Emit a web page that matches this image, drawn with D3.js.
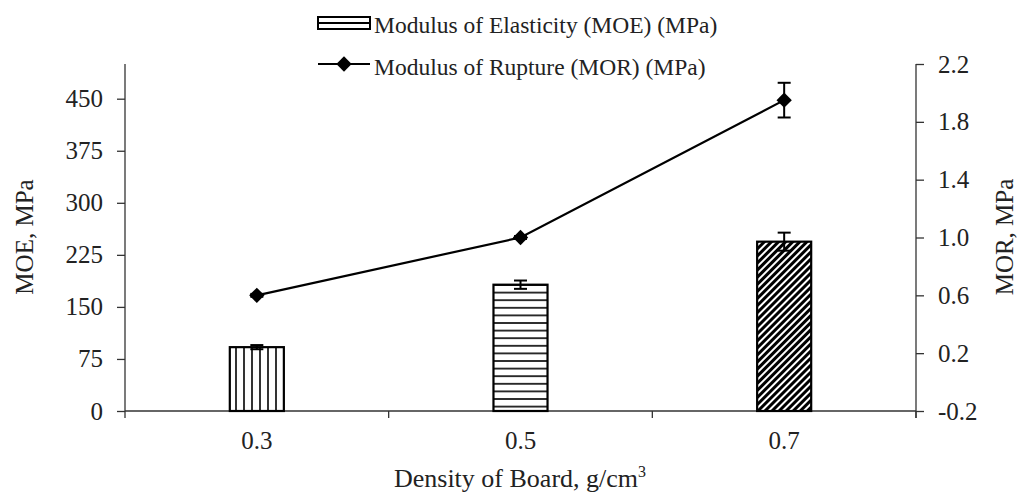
<!DOCTYPE html>
<html>
<head>
<meta charset="utf-8">
<script src="https://cdn.jsdelivr.net/npm/d3@7"></script>
<style>
  body { margin: 0; background: #fff; }
  text { font-family: "Liberation Serif", "Times New Roman", serif; fill: #222; }
</style>
</head>
<body>
<div id="canvas"></div>
<script>
var densities = ["0.3", "0.5", "0.7"];
var moeValues = [92, 182, 244];
var moeErrors = [3, 6, 13];
var morValues = [0.60, 1.00, 1.95];
var morErrors = [0.01, 0.01, 0.12];
var moeTicks = [0, 75, 150, 225, 300, 375, 450];
var morTicks = [-0.2, 0.2, 0.6, 1.0, 1.4, 1.8, 2.2];
var patterns = ["vert", "horiz", "diag"];

var W = 1019, H = 494;
var AXIS_COLOR = "#333";
var FONT = "25px";
var mLeft = 125, mRight = 916, mTop = 64, mBottom = 411;

var svg = d3.select("#canvas").append("svg").attr("width", W).attr("height", H);

var defs = svg.append("defs");
var p1 = defs.append("pattern").attr("id", "vert").attr("patternUnits", "userSpaceOnUse")
    .attr("width", 8).attr("height", 8);
p1.append("rect").attr("width", 8).attr("height", 8).attr("fill", "#fff");
p1.append("line").attr("x1", 4).attr("x2", 4).attr("y1", 0).attr("y2", 8)
    .attr("stroke", "#000").attr("stroke-width", 1.6);
var p2 = defs.append("pattern").attr("id", "horiz").attr("patternUnits", "userSpaceOnUse")
    .attr("width", 8).attr("height", 7.6);
p2.append("rect").attr("width", 8).attr("height", 7.6).attr("fill", "#fff");
p2.append("line").attr("x1", 0).attr("x2", 8).attr("y1", 3.8).attr("y2", 3.8)
    .attr("stroke", "#000").attr("stroke-width", 1.6);
var p3 = defs.append("pattern").attr("id", "diag").attr("patternUnits", "userSpaceOnUse")
    .attr("width", 5).attr("height", 5).attr("patternTransform", "rotate(45)");
p3.append("rect").attr("width", 5).attr("height", 5).attr("fill", "#fff");
p3.append("line").attr("x1", 1.5).attr("x2", 1.5).attr("y1", 0).attr("y2", 5)
    .attr("stroke", "#000").attr("stroke-width", 3);

var x = d3.scaleBand().domain(densities).range([mLeft, mRight]).padding(0);
var yL = d3.scaleLinear().domain([0, 500]).range([mBottom, mTop]);
var yR = d3.scaleLinear().domain([-0.2, 2.2]).range([mBottom, mTop]);
var barW = x.bandwidth() * 0.205;

// left axis
var gL = svg.append("g").attr("transform", "translate(" + mLeft + ",0)")
    .call(d3.axisLeft(yL).tickValues(moeTicks).tickSize(8).tickPadding(14));
// right axis
var gR = svg.append("g").attr("transform", "translate(" + mRight + ",0)")
    .call(d3.axisRight(yR).tickValues(morTicks).tickSize(8).tickPadding(14)
        .tickFormat(function(d){ return d.toFixed(1); }));
// bottom axis (labels only), boundary ticks drawn separately
var gB = svg.append("g").attr("transform", "translate(0," + mBottom + ")")
    .call(d3.axisBottom(x).tickSize(0).tickPadding(20));
gB.select(".domain").remove();

[gL, gR, gB].forEach(function(g){
    g.selectAll("text").style("font-size", FONT).style("font-family", "Liberation Serif").attr("fill", "#222");
    g.selectAll("line").attr("stroke", AXIS_COLOR).attr("stroke-width", 1.3);
    g.select(".domain").attr("stroke", AXIS_COLOR).attr("stroke-width", 1.3);
});
gL.select(".domain").attr("d", "M0," + mTop + "V" + mBottom);
gR.select(".domain").attr("d", "M0," + mTop + "V" + (mBottom + 7));

svg.append("line").attr("x1", mLeft).attr("x2", mRight).attr("y1", mBottom).attr("y2", mBottom)
    .attr("stroke", AXIS_COLOR).attr("stroke-width", 1.3);
var bounds = densities.map(function(d){ return x(d); }).concat([mRight]);
svg.selectAll(".xtick").data(bounds).enter().append("line")
    .attr("x1", function(d){ return d; }).attr("x2", function(d){ return d; })
    .attr("y1", mBottom).attr("y2", mBottom + 7)
    .attr("stroke", AXIS_COLOR).attr("stroke-width", 1.3);

// bars
var cx = function(i){ return x(densities[i]) + x.bandwidth() / 2; };
svg.selectAll(".bar").data(moeValues).enter().append("rect")
    .attr("x", function(d, i){ return cx(i) - barW / 2; })
    .attr("y", function(d){ return yL(d); })
    .attr("width", barW)
    .attr("height", function(d){ return mBottom - yL(d); })
    .attr("fill", function(d, i){ return "url(#" + patterns[i] + ")"; })
    .attr("stroke", "#000").attr("stroke-width", 2.2);

function errorBars(vals, errs, scale, capW){
    var g = svg.append("g").attr("stroke", "#000").attr("stroke-width", 2);
    vals.forEach(function(v, i){
        var c = cx(i), yt = scale(v + errs[i]), yb = scale(v - errs[i]);
        g.append("line").attr("x1", c).attr("x2", c).attr("y1", yt).attr("y2", yb);
        g.append("line").attr("x1", c - capW / 2).attr("x2", c + capW / 2).attr("y1", yt).attr("y2", yt);
        g.append("line").attr("x1", c - capW / 2).attr("x2", c + capW / 2).attr("y1", yb).attr("y2", yb);
    });
}
errorBars(moeValues, moeErrors, yL, 13);

// MOR line
var line = d3.line().x(function(d, i){ return cx(i); }).y(function(d){ return yR(d); });
svg.append("path").datum(morValues).attr("d", line)
    .attr("fill", "none").attr("stroke", "#000").attr("stroke-width", 2.2);
errorBars(morValues, morErrors, yR, 13);
var diamond = d3.symbol().type(d3.symbolDiamond2).size(150);
svg.selectAll(".pt").data(morValues).enter().append("path")
    .attr("d", diamond)
    .attr("transform", function(d, i){ return "translate(" + cx(i) + "," + yR(d) + ")"; })
    .attr("fill", "#000");

// axis titles
svg.append("text").attr("transform", "translate(33,237) rotate(-90)")
    .attr("text-anchor", "middle").style("font-size", FONT).text("MOE, MPa");
svg.append("text").attr("transform", "translate(1007,237) rotate(-90)")
    .attr("text-anchor", "middle").attr("dominant-baseline", "middle").style("font-size", FONT).text("MOR, MPa");
var xt = svg.append("text").attr("x", 520).attr("y", 487)
    .attr("text-anchor", "middle").style("font-size", "26px");
xt.append("tspan").text("Density of Board, g/cm");
xt.append("tspan").attr("dy", -10).style("font-size", "16px").text("3");

// legend
var lg = svg.append("g");
lg.append("rect").attr("x", 318).attr("y", 17).attr("width", 52).attr("height", 12)
    .attr("fill", "#fff").attr("stroke", "#000").attr("stroke-width", 2);
lg.append("line").attr("x1", 318).attr("x2", 370).attr("y1", 23).attr("y2", 23)
    .attr("stroke", "#000").attr("stroke-width", 2);
lg.append("text").attr("x", 374).attr("y", 33).style("font-size", "23.5px")
    .text("Modulus of Elasticity (MOE) (MPa)");
lg.append("line").attr("x1", 318).attr("x2", 370).attr("y1", 64).attr("y2", 64)
    .attr("stroke", "#000").attr("stroke-width", 2);
lg.append("path").attr("d", diamond).attr("transform", "translate(344,64)").attr("fill", "#000");
lg.append("text").attr("x", 374).attr("y", 75).style("font-size", "23.5px")
    .text("Modulus of Rupture (MOR) (MPa)");
</script>
</body>
</html>
